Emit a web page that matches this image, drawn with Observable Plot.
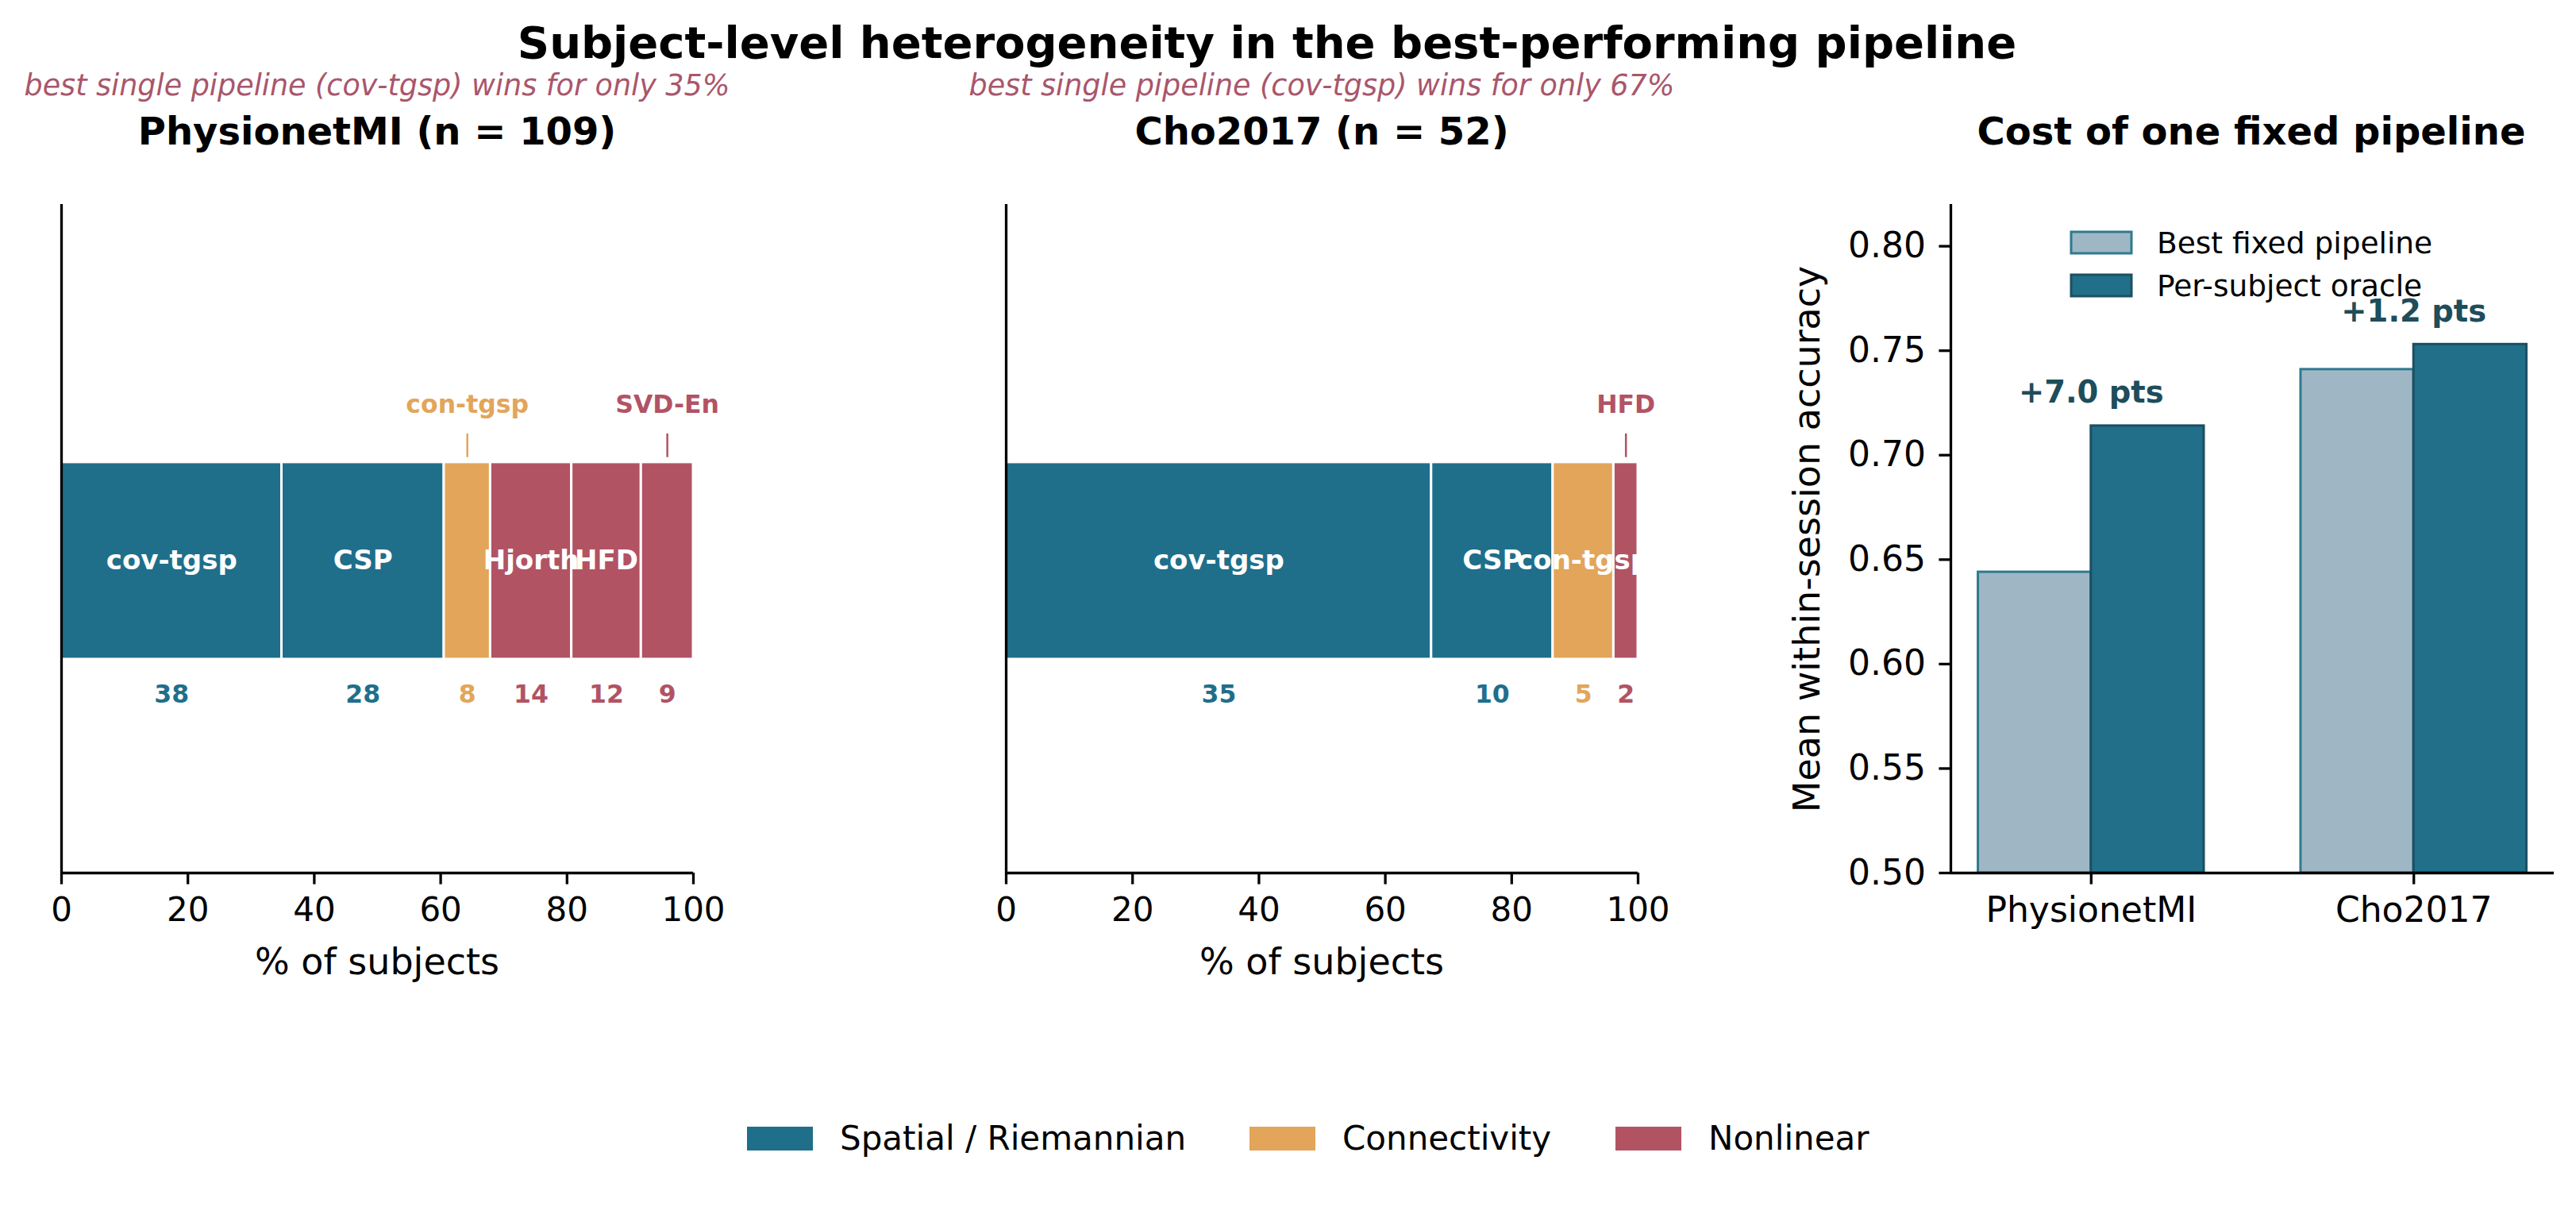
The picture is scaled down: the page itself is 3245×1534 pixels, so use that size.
<!DOCTYPE html>
<html><head><meta charset="utf-8">
<script src="https://cdn.jsdelivr.net/npm/d3@7"></script>
<script src="https://cdn.jsdelivr.net/npm/@observablehq/plot@0.6"></script>
<style>
html,body{margin:0;padding:0;background:#fff;}
#root{position:relative;width:3245px;height:1534px;overflow:hidden;background:#fff;font-family:"DejaVu Sans";}
#root > svg{position:absolute;top:0;max-width:none;}
</style></head><body><div id="root"></div>
<script>
// ---- data ----
const familyNames = ["Spatial / Riemannian", "Connectivity", "Nonlinear"];
const familyColors = ["#1f6f8b", "#e2a55a", "#b25364"];

const physioPipelines = ["cov-tgsp", "CSP", "con-tgsp", "Hjorth", "HFD", "SVD-En"];
const physioCounts = [38, 28, 8, 14, 12, 9];
const physioFamilies = ["Spatial / Riemannian", "Spatial / Riemannian", "Connectivity", "Nonlinear", "Nonlinear", "Nonlinear"];

const choPipelines = ["cov-tgsp", "CSP", "con-tgsp", "HFD"];
const choCounts = [35, 10, 5, 2];
const choFamilies = ["Spatial / Riemannian", "Spatial / Riemannian", "Connectivity", "Nonlinear"];

const datasets = ["PhysionetMI", "Cho2017"];
const bestFixed = [0.644, 0.741];
const oracle = [0.714, 0.753];
const barKinds = ["Best fixed pipeline", "Per-subject oracle"];

const pctTicks = [0, 20, 40, 60, 80, 100];
const accTicks = [0.50, 0.55, 0.60, 0.65, 0.70, 0.75, 0.80];

// ---- helpers ----
const FONT = "DejaVu Sans";
const root = document.getElementById("root");

function segments(pipelines, counts, families) {
  const n = d3.sum(counts);
  let acc = 0;
  return pipelines.map((p, k) => {
    const pct = counts[k] / n * 100;
    const s = {pipeline: p, count: counts[k], family: families[k], x1: acc, x2: acc + pct, pct};
    acc += pct;
    return s;
  });
}
const mid = d => (d.x1 + d.x2) / 2;

function stackPanel(segs, left) {
  const yDom = [-0.951, 1.086];
  const half = 0.3;
  const inside = segs.filter(d => d.pct >= 9);
  const outside = segs.filter(d => d.pct < 9);
  const svg = Plot.plot({
    width: 1000, height: 1250,
    marginLeft: 77, marginRight: 127, marginTop: 257, marginBottom: 151,
    style: {fontFamily: FONT, background: "transparent", color: "#000", overflow: "visible"},
    x: {domain: [0, 100]},
    y: {domain: yDom, axis: null},
    color: {domain: familyNames, range: familyColors},
    marks: [
      Plot.rect(segs, {x1: "x1", x2: "x2", y1: () => -half, y2: () => half, fill: "family", stroke: "white", strokeWidth: 3}),
      Plot.text(inside, {x: mid, y: () => 0, text: "pipeline", fill: "white", fontWeight: "bold", fontSize: 34, lineAnchor: "middle"}),
      Plot.ruleX(outside, {x: mid, y1: () => 0.315, y2: () => 0.387, stroke: "family", strokeWidth: 2.5}),
      Plot.text(outside, {x: mid, y: () => 0.45, text: "pipeline", fill: "family", fontWeight: "bold", fontSize: 31.5, lineAnchor: "bottom"}),
      Plot.text(segs, {x: mid, y: () => -0.431, text: d => String(d.count), fill: "family", fontWeight: "bold", fontSize: 31.5, lineAnchor: "bottom"}),
      Plot.ruleX([0], {stroke: "#000", strokeWidth: 3.3}),
      Plot.ruleY([yDom[0]], {stroke: "#000", strokeWidth: 3.3}),
      Plot.axisX({ticks: pctTicks, tickSize: 14.6, tickPadding: 16, fontSize: 42, strokeWidth: 3.3, label: null})
    ]
  });
  svg.style.left = left + "px";
  root.appendChild(svg);
}

stackPanel(segments(physioPipelines, physioCounts, physioFamilies), 0);
stackPanel(segments(choPipelines, choCounts, choFamilies), 1190);

// ---- right panel ----
(function () {
  const xDom = [-0.435, 1.435];
  const yDom = [0.5, 0.82];
  const barW = 0.35;
  const fixedRows = datasets.map((name, i) => ({i, name, kind: barKinds[0], value: bestFixed[i]}));
  const oracleRows = datasets.map((name, i) => ({i, name, kind: barKinds[1], value: oracle[i]}));
  const svg = Plot.plot({
    width: 1045, height: 1250,
    marginLeft: 257, marginRight: 28, marginTop: 257, marginBottom: 151,
    style: {fontFamily: FONT, background: "transparent", color: "#000", overflow: "visible"},
    x: {domain: xDom},
    y: {domain: yDom},
    marks: [
      Plot.rect(fixedRows, {x1: d => d.i - barW, x2: "i", y1: () => yDom[0], y2: "value", fill: "#9fb7c5", stroke: "#2f7a8f", strokeWidth: 3}),
      Plot.rect(oracleRows, {x1: "i", x2: d => d.i + barW, y1: () => yDom[0], y2: "value", fill: "#216f89", stroke: "#1b5062", strokeWidth: 3}),
      Plot.text(datasets, {
        x: (d, i) => i, y: (d, i) => oracle[i] + 0.011,
        text: (d, i) => "+" + ((oracle[i] - bestFixed[i]) * 100).toFixed(1) + " pts",
        fill: "#1e4d5b", fontWeight: "bold", fontSize: 38.5, lineAnchor: "bottom"
      }),
      Plot.ruleX([xDom[0]], {stroke: "#000", strokeWidth: 3.3}),
      Plot.ruleY([yDom[0]], {stroke: "#000", strokeWidth: 3.3}),
      Plot.axisY({ticks: accTicks, tickFormat: d3.format(".2f"), tickSize: 14.6, tickPadding: 17, fontSize: 44, strokeWidth: 3.3, label: null}),
      Plot.axisX({ticks: [0, 1], tickFormat: i => datasets[i], tickSize: 14.6, tickPadding: 16, fontSize: 44, strokeWidth: 3.3, label: null})
    ]
  });
  svg.style.left = "2200px";
  root.appendChild(svg);
})();

// ---- text & legends overlay ----
const ov = d3.select(root).append("svg")
  .attr("width", 3245).attr("height", 1534)
  .style("position", "absolute").style("left", "0px").style("top", "0px")
  .style("font-family", FONT);

function txt(x, y, s, size, opts = {}) {
  const t = ov.append("text").attr("x", x).attr("y", y).text(s)
    .attr("font-size", size)
    .attr("text-anchor", opts.anchor || "middle")
    .attr("fill", opts.fill || "#000");
  if (opts.weight) t.attr("font-weight", opts.weight);
  if (opts.style) t.attr("font-style", opts.style);
  if (opts.rotate) t.attr("transform", `rotate(${opts.rotate},${x},${y})`);
  return t;
}

txt(1596, 73, "Subject-level heterogeneity in the best-performing pipeline", 56, {weight: "bold"});

const subColor = "#a9566b";
txt(475, 120, "best single pipeline (cov-tgsp) wins for only " + Math.round(physioCounts[0] / d3.sum(physioCounts) * 100) + "%", 36.5, {style: "italic", fill: subColor});
txt(1665, 120, "best single pipeline (cov-tgsp) wins for only " + Math.round(choCounts[0] / d3.sum(choCounts) * 100) + "%", 36.5, {style: "italic", fill: subColor});

txt(475, 182, `${datasets[0]} (n = ${d3.sum(physioCounts)})`, 48, {weight: "bold"});
txt(1665, 182, `${datasets[1]} (n = ${d3.sum(choCounts)})`, 48, {weight: "bold"});
txt(2836, 182, "Cost of one fixed pipeline", 48, {weight: "bold"});

txt(475, 1227, "% of subjects", 46);
txt(1665, 1227, "% of subjects", 46);
txt(2292, 679, "Mean within-session accuracy", 46, {rotate: -90});

// in-panel legend (right)
ov.append("rect").attr("x", 2609).attr("y", 292).attr("width", 76).attr("height", 27)
  .attr("fill", "#9fb7c5").attr("stroke", "#2f7a8f").attr("stroke-width", 3);
ov.append("rect").attr("x", 2609).attr("y", 346).attr("width", 76).attr("height", 27)
  .attr("fill", "#216f89").attr("stroke", "#1b5062").attr("stroke-width", 3);
txt(2717, 319, barKinds[0], 37.5, {anchor: "start"});
txt(2717, 373, barKinds[1], 37.5, {anchor: "start"});

// bottom legend
const legX = [941, 1574, 2035];
familyNames.forEach((name, k) => {
  ov.append("rect").attr("x", legX[k]).attr("y", 1419).attr("width", 83).attr("height", 30).attr("fill", familyColors[k]);
  txt(legX[k] + 117, 1448, name, 42, {anchor: "start"});
});
</script>
</body></html>
